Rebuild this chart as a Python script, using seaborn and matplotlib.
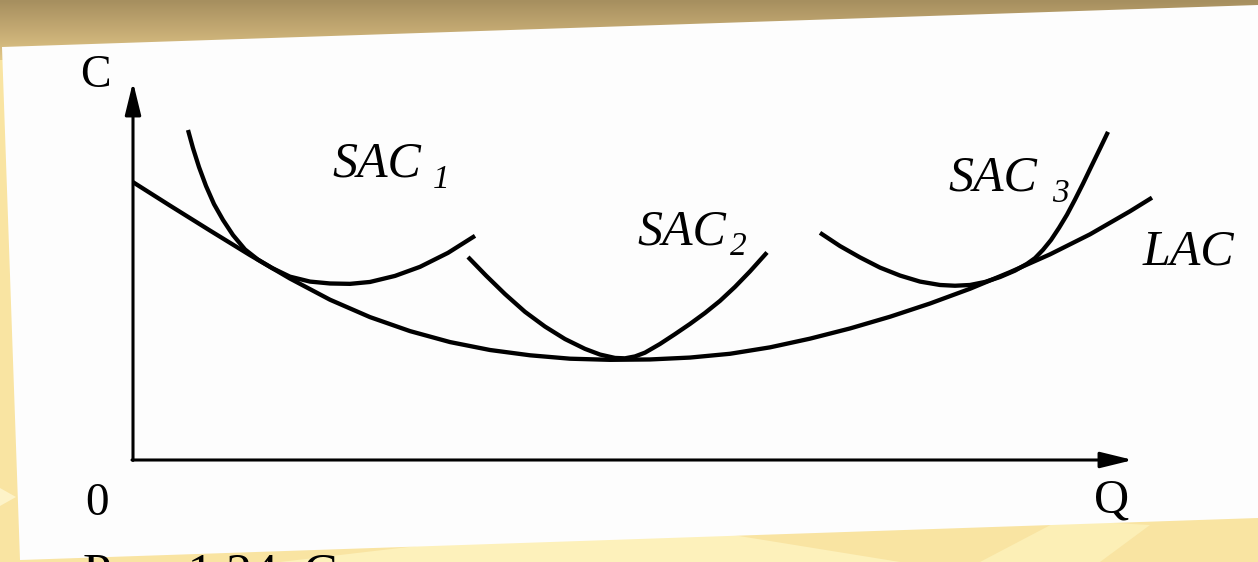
import numpy as np
import pandas as pd
import matplotlib
matplotlib.use("Agg")
import matplotlib.pyplot as plt
from matplotlib.patches import Polygon
import seaborn as sns

# ---------------- data ----------------
lac_q = [0.00, 0.37, 0.77, 1.17, 1.57, 1.97, 2.37, 2.77, 3.17, 3.57, 3.97, 4.37, 4.77,
         5.17, 5.57, 5.97, 6.37, 6.77, 7.17, 7.57, 7.97, 8.37, 8.77, 9.17, 9.57, 9.97, 10.19]
lac_c = [7.35, 6.73, 6.07, 5.42, 4.80, 4.24, 3.78, 3.41, 3.12, 2.91, 2.77, 2.68, 2.65,
         2.66, 2.71, 2.81, 2.98, 3.21, 3.48, 3.79, 4.14, 4.53, 4.97, 5.44, 5.97, 6.58, 6.94]

sac1_q = [0.55, 0.60, 0.66, 0.73, 0.81, 0.90, 1.00, 1.12, 1.25, 1.39, 1.57, 1.77, 1.97,
          2.17, 2.37, 2.62, 2.87, 3.15, 3.42]
sac1_c = [8.73, 8.25, 7.75, 7.25, 6.77, 6.35, 5.95, 5.57, 5.30, 5.08, 4.85, 4.72, 4.67,
          4.66, 4.71, 4.87, 5.11, 5.48, 5.93]

sac2_q = [3.35, 3.53, 3.72, 3.92, 4.12, 4.32, 4.52, 4.67, 4.82, 4.92, 5.02, 5.12, 5.27,
          5.42, 5.57, 5.72, 5.87, 6.02, 6.17, 6.34]
sac2_c = [5.37, 4.88, 4.39, 3.92, 3.53, 3.20, 2.94, 2.79, 2.70, 2.69, 2.74, 2.84, 3.07,
          3.33, 3.60, 3.89, 4.21, 4.58, 4.99, 5.49]

sac3_q = [6.87, 7.07, 7.27, 7.47, 7.67, 7.87, 8.07, 8.22, 8.37, 8.52, 8.67, 8.82, 8.94,
          9.02, 9.10, 9.18, 9.26, 9.34, 9.42, 9.50, 9.58, 9.67, 9.75]
sac3_c = [6.01, 5.66, 5.36, 5.09, 4.88, 4.72, 4.63, 4.61, 4.63, 4.71, 4.84, 5.01, 5.19,
          5.34, 5.56, 5.82, 6.14, 6.49, 6.89, 7.31, 7.75, 8.24, 8.68]

curve_names = ["LAC", "SAC1", "SAC2", "SAC3"]
axis_labels = ["C", "Q", "0"]
caption = "Рис. 1.24. С"

# ---------------- style ----------------
sns.set_theme(style="white")
plt.rcParams["font.family"] = ["Liberation Serif", "DejaVu Serif"]
plt.rcParams["text.color"] = "black"

W, H = 1258, 562
fig = plt.figure(figsize=(W / 100, H / 100), dpi=100)
fig.patch.set_facecolor("#f9e3a0")

# ---------------- background (slide + scanned page) ----------------
bg = fig.add_axes([0, 0, 1, 1], zorder=0)
bg.set_xlim(0, W)
bg.set_ylim(H, 0)
bg.set_axis_off()
bg.add_patch(Polygon([(0, 0), (W, 0), (W, H), (0, H)], closed=True,
                     facecolor="#f9e4a2", edgecolor="none"))
grad = np.linspace(0, 1, 64).reshape(-1, 1)
top_cmap = matplotlib.colors.LinearSegmentedColormap.from_list(
    "top", ["#a68f5f", "#c4aa73", "#e2c888"])
bg.imshow(grad, extent=[0, W, 60, 0], cmap=top_cmap, aspect="auto", zorder=1)
# lighter facets in the lower band
bg.add_patch(Polygon([(280, H), (640, 520), (900, H)], closed=True,
                     facecolor="#fdf1bb", edgecolor="none", zorder=2))
bg.add_patch(Polygon([(980, H), (1060, 520), (1150, 525), (1100, H)], closed=True,
                     facecolor="#fcefb6", edgecolor="none", zorder=2))
bg.add_patch(Polygon([(0, 488), (16, 497), (0, 506)], closed=True,
                     facecolor="#fdf3c8", edgecolor="none", zorder=2))
# white page, slightly rotated
bg.add_patch(Polygon([(2, 47), (W, 5), (W, 518), (20, 560)], closed=True,
                     facecolor="#fdfdfd", edgecolor="none", zorder=3))
bg.text(83, 587, caption, fontsize=37, color="black", ha="left",
        va="baseline", clip_on=False, zorder=10)

# ---------------- main chart ----------------
ax = fig.add_axes([133 / W, (H - 460) / H, 1100 / W, 378 / H], zorder=2)
ax.patch.set_alpha(0)
ax.set_xlim(0, 11)
ax.set_ylim(0, 10)

frames = []
for name, q, c in zip(curve_names,
                      [lac_q, sac1_q, sac2_q, sac3_q],
                      [lac_c, sac1_c, sac2_c, sac3_c]):
    frames.append(pd.DataFrame({"Q": q, "C": c, "curve": name}))
df = pd.concat(frames, ignore_index=True)

sns.lineplot(data=df, x="Q", y="C", units="curve", estimator=None, sort=False,
             color="black", linewidth=3.1, ax=ax, legend=False,
             solid_capstyle="butt", solid_joinstyle="round")
for ln in ax.get_lines():
    ln.set_clip_on(False)

# axes arrows
arrow = dict(arrowstyle="-|>,head_length=0.9,head_width=0.22", color="black",
             lw=2.2, shrinkA=0, shrinkB=0, mutation_scale=22)
ax.annotate("", xy=(10.0, 0), xytext=(-0.01, 0), arrowprops=arrow,
            annotation_clip=False)
ax.annotate("", xy=(0, 10.0), xytext=(0, -0.01), arrowprops=arrow,
            annotation_clip=False)

for s in ax.spines.values():
    s.set_visible(False)
ax.set_xticks([])
ax.set_yticks([])
ax.set_xlabel("")
ax.set_ylabel("")

# axis letters
ax.text(-0.38, 9.87, axis_labels[0], fontsize=33, ha="center", va="baseline",
        color="black")
ax.text(9.79, -1.38, axis_labels[1], fontsize=35, ha="center", va="baseline",
        color="black")
ax.text(-0.36, -1.46, axis_labels[2], fontsize=34, ha="center", va="baseline",
        color="black")

# curve labels (italic, with subscripts)
lab = dict(fontsize=36, style="italic", ha="left", va="baseline", color="black")
sub = dict(fontsize=24, style="italic", ha="left", va="baseline", color="black")
ax.text(1.99, 7.49, "SAC", **lab)
ax.text(3.00, 7.20, "1", **sub)
ax.text(5.04, 5.69, "SAC", **lab)
ax.text(5.97, 5.42, "2", **sub)
ax.text(8.15, 7.14, "SAC", **lab)
ax.text(9.19, 6.83, "3", **sub)
ax.text(10.10, 5.16, "LAC", **lab)

fig.savefig("out.png", dpi=100, facecolor=fig.get_facecolor())
